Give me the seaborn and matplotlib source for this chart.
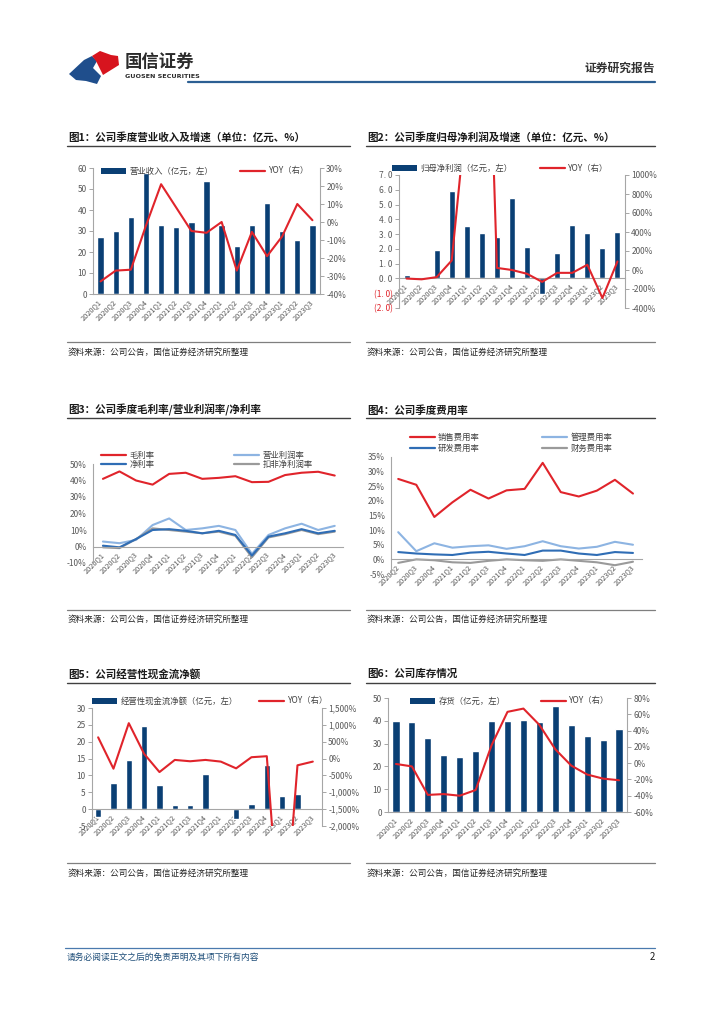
import numpy as np
import pandas as pd
import matplotlib
matplotlib.use("Agg")
import matplotlib.pyplot as plt
import seaborn as sns
from matplotlib.patches import Polygon, Patch
from matplotlib.lines import Line2D

# ---------------- data ----------------
quarters15 = ["2020Q1", "2020Q2", "2020Q3", "2020Q4", "2021Q1", "2021Q2", "2021Q3", "2021Q4",
              "2022Q1", "2022Q2", "2022Q3", "2022Q4", "2023Q1", "2023Q2", "2023Q3"]
quarters14 = quarters15[1:]

revenue = [27.0, 29.8, 36.8, 57.5, 33.0, 31.7, 34.5, 53.8, 33.0, 23.0, 33.0, 43.5, 29.8, 25.5, 33.0]
revenue_yoy = [-33, -27, -26.5, -2, 21, 8, -5, -6, 0, -27, -5.5, -19, -8, 10, 1]

net_profit = [0.2, 0.0, 1.9, 5.9, 3.55, 3.1, 2.8, 5.45, 2.1, -1.05, 1.7, 3.65, 3.1, 2.05, 3.15]
net_profit_yoy = [-90, -98, -75, 100, 1700, 5000, 22, 0, -40, -125, -30, -30, 55, -295, 90]

gross_margin = [41, 45.5, 40, 37.5, 44, 44.7, 41, 41.6, 42.6, 39, 39.2, 43.3, 44.7, 45.3, 43]
op_margin = [3, 2, 4, 13, 17, 10, 11, 12.5, 10, -4.5, 7, 11, 13.8, 10, 12.5]
net_margin = [0.5, -0.5, 4.5, 10, 10.5, 9.5, 8, 9.5, 7, -5.5, 6, 8, 10.5, 8, 9.5]
deducted_margin = [-0.5, -1, 4.5, 11, 10, 9, 8, 9, 6.5, -6.5, 5.5, 7.5, 10, 7.5, 9]

sales_rate = [27.5, 25.5, 14.5, 19.5, 23.8, 20.8, 23.6, 24.1, 33, 23, 21.5, 23.5, 27.2, 22.5]
admin_rate = [9.3, 2.8, 5.5, 4.0, 4.5, 4.8, 3.6, 4.5, 6.2, 4.5, 3.7, 4.3, 6.0, 5.0]
rd_rate = [2.5, 2.0, 1.7, 1.5, 2.3, 2.6, 2.0, 1.5, 3.0, 3.0, 2.0, 1.5, 2.5, 2.2]
finance_rate = [-1.2, 0.0, -0.3, -1.0, -1.2, -0.5, 0.0, -0.3, -0.5, 0.0, -0.5, -1.0, -2.0, -0.8]

ocf = [-2.4, 7.7, 14.6, 24.7, 7.3, 1.3, 1.1, 10.5, 0.0, -2.8, 1.4, 13.1, 3.8, 4.5, 0.3]
ocf_yoy = [630, -300, 1050, 140, -400, -40, -80, -40, -90, -290, 40, 70, -6000, -200, -90]

inventory = [40, 39.3, 32.5, 25, 24.2, 26.8, 40, 40, 40.4, 39.6, 46.5, 38.3, 33.5, 31.6, 36.5]
inventory_yoy = [-1, -4, -39, -38, -40, -33, 22, 63, 67, 47, 17, -3, -14, -19, -21]

# ---------------- style ----------------
sns.set_theme(style="white")
plt.rcParams['font.family'] = ['Noto Sans CJK SC', 'DejaVu Sans']
plt.rcParams['axes.unicode_minus'] = False

W, H = 724, 1024
NAVY = "#0A3F74"
RED = "#E0242B"
LBLUE = "#8DB4E2"
MBLUE = "#2F6DB5"
GRAY = "#9A9A9A"
AXC = "#A6A6A6"
TXT = "#595959"

fig = plt.figure(figsize=(W / 100, H / 100), dpi=100)
bg = fig.add_axes([0, 0, 1, 1])
bg.set_xlim(0, W)
bg.set_ylim(H, 0)
bg.axis('off')


def make_axes(x0, y0, x1, y1):
    return fig.add_axes([x0 / W, 1 - y1 / H, (x1 - x0) / W, (y1 - y0) / H])


def base_style(ax, labels, zero_spine=False, xlim=None):
    n = len(labels)
    for s in ['top', 'right']:
        ax.spines[s].set_visible(False)
    for s in ['left', 'bottom']:
        ax.spines[s].set_color(AXC)
        ax.spines[s].set_linewidth(0.8)
    if zero_spine:
        ax.spines['bottom'].set_position(('data', 0))
    ax.set_xticks(range(n))
    ax.set_xticklabels(labels, rotation=45, ha='right', va='center',
                       rotation_mode='anchor', fontsize=5.3, color=TXT)
    ax.set_xticks(np.arange(-0.5, n, 1), minor=True)
    ax.tick_params(axis='x', which='major', length=0, pad=5)
    ax.tick_params(axis='x', which='minor', length=3, color=AXC, direction='out', width=0.7)
    ax.tick_params(axis='y', length=3, color=AXC, labelsize=6, labelcolor=TXT, pad=1.5, width=0.7)
    ax.set_xlabel('')
    ax.set_ylabel('')
    ax.grid(False)
    ax.set_xlim(xlim if xlim else (-0.5, n - 0.5))


def twin_style(ax2):
    for s in ['top', 'left', 'bottom']:
        ax2.spines[s].set_visible(False)
    ax2.spines['right'].set_color(AXC)
    ax2.spines['right'].set_linewidth(0.8)
    ax2.tick_params(axis='y', length=3, color=AXC, labelsize=6, labelcolor=TXT, pad=1.5, width=0.7)
    ax2.set_xlabel('')
    ax2.set_ylabel('')
    ax2.grid(False)


def pct_labels(ax, ticks, comma=False):
    ax.set_yticks(ticks)
    if comma:
        ax.set_yticklabels([f"{t:,.0f}%" for t in ticks])
    else:
        ax.set_yticklabels([f"{t:.0f}%" for t in ticks])


def legend_at(ax, handles, labels, cx, cy, ncol, colsp, handlelen=3.0, rowsp=0.2):
    leg = ax.legend(handles, labels, loc='center', bbox_to_anchor=(cx, cy),
                    bbox_transform=bg.transData, ncol=ncol, frameon=False,
                    fontsize=6, handlelength=handlelen, handletextpad=0.4,
                    columnspacing=colsp, labelspacing=rowsp, borderaxespad=0, borderpad=0)
    for t in leg.get_texts():
        t.set_color("#404040")
    return leg


def title_block(x0, x1, ytitle, yline, text):
    bg.text(x0 + 1, ytitle, text, fontsize=7.6, fontweight='bold', color="#1A1A1A",
            va='center', ha='left')
    bg.plot([x0, x1], [yline, yline], color="#404040", lw=1.0)


def source_block(x0, x1, yline, ytext):
    bg.plot([x0, x1], [yline, yline], color="#7F7F7F", lw=0.9)
    bg.text(x0 + 1, ytext, "资料来源：公司公告，国信证券经济研究所整理", fontsize=6.2,
            color="#262626", va='center', ha='left')


idx15 = np.arange(15)
idx14 = np.arange(14)
bar_handle = lambda: Patch(facecolor=NAVY, edgecolor='none')
line_handle = lambda c: Line2D([0], [0], color=c, lw=1.6)

# ---------------- header / footer ----------------
blue_logo = Polygon([(69, 74), (84, 60), (92, 56), (97, 61), (93, 68), (101, 76),
                     (97, 84), (86, 81), (76, 80)], closed=True, facecolor="#1F4E8C",
                    edgecolor='none')
red_logo = Polygon([(92, 56), (100, 51), (111, 55), (118, 56), (119, 65), (111, 70),
                    (103, 75), (99, 67), (96, 61)], closed=True, facecolor="#D7141E",
                   edgecolor='none')
bg.add_patch(blue_logo)
bg.add_patch(red_logo)
bg.text(125, 62, "国信证券", fontsize=12.5, fontweight='bold', color="#2B2B2B", va='center', ha='left')
bg.text(125, 77, "GUOSEN SECURITIES", fontsize=4.6, fontweight='bold', color="#2B2B2B",
        va='center', ha='left', family=['DejaVu Sans'])
bg.plot([188, 655], [82, 82], color="#2C5F93", lw=1.6)
bg.text(655, 68, "证券研究报告", fontsize=8.5, fontweight='bold', color="#333333", va='center', ha='right')

bg.plot([65, 655], [948, 948], color="#4A7AAE", lw=0.9)
bg.text(67, 957, "请务必阅读正文之后的免责声明及其项下所有内容", fontsize=6.3, style='italic',
        color="#1F4E79", va='center', ha='left')
bg.text(655, 957, "2", fontsize=7, color="#1A1A1A", va='center', ha='right')

# ---------------- titles & sources ----------------
title_block(67, 350, 137, 146, "图1：公司季度营业收入及增速（单位：亿元、%）")
title_block(366, 655, 137, 146, "图2：公司季度归母净利润及增速（单位：亿元、%）")
title_block(67, 350, 410, 418, "图3：公司季度毛利率/营业利润率/净利率")
title_block(366, 655, 410, 418, "图4：公司季度费用率")
title_block(67, 350, 674, 683, "图5：公司经营性现金流净额")
title_block(366, 655, 674, 683, "图6：公司库存情况")

source_block(67, 350, 342, 352)
source_block(366, 655, 342, 352)
source_block(67, 350, 610, 619)
source_block(366, 655, 610, 619)
source_block(67, 350, 863, 873)
source_block(366, 655, 863, 873)

# ---------------- chart 1 ----------------
ax = make_axes(93, 168, 320, 294)
sns.barplot(x=quarters15, y=revenue, color=NAVY, saturation=1, width=0.42, errorbar=None, ax=ax)
base_style(ax, quarters15)
ax.set_ylim(0, 60)
ax.set_yticks(np.arange(0, 61, 10))
ax2 = ax.twinx()
sns.lineplot(x=idx15, y=revenue_yoy, color=RED, linewidth=1.5, ax=ax2)
twin_style(ax2)
ax2.set_ylim(-40, 30)
pct_labels(ax2, np.arange(-40, 31, 10))
ax.set_xlim(-0.5, 14.5)
legend_at(ax2, [bar_handle(), line_handle(RED)], ["营业收入（亿元，左）", "YOY（右）"],
          205, 171, 2, 3.3)

# ---------------- chart 2 ----------------
ax = make_axes(399, 175, 625, 308)
sns.barplot(x=quarters15, y=net_profit, color=NAVY, saturation=1, width=0.40, errorbar=None, ax=ax)
base_style(ax, quarters15, zero_spine=True)
ax.set_ylim(-2, 7)
lt = np.arange(-2, 7.01, 1.0)
ax.set_yticks(lt)
ax.set_yticklabels([f"{v:.1f}".replace(".", ". ") if v >= 0 else f"({-v:.1f})".replace(".", ". ") for v in lt])
for v, t in zip(lt, ax.get_yticklabels()):
    if v < 0:
        t.set_color("#E0242B")
ax2 = ax.twinx()
sns.lineplot(x=idx15, y=net_profit_yoy, color=RED, linewidth=1.5, ax=ax2)
twin_style(ax2)
ax2.set_ylim(-400, 1000)
pct_labels(ax2, np.arange(-400, 1001, 200))
ax.set_xlim(-0.5, 14.5)
legend_at(ax2, [bar_handle(), line_handle(RED)], ["归母净利润（亿元，左）", "YOY（右）"],
          500, 168, 2, 3.3)

# ---------------- chart 3 ----------------
ax = make_axes(93, 464, 343, 563)
sns.lineplot(x=idx15, y=gross_margin, color=RED, linewidth=1.5, ax=ax)
sns.lineplot(x=idx15, y=op_margin, color=LBLUE, linewidth=1.5, ax=ax)
sns.lineplot(x=idx15, y=deducted_margin, color=GRAY, linewidth=1.5, ax=ax)
sns.lineplot(x=idx15, y=net_margin, color=MBLUE, linewidth=1.5, ax=ax)
base_style(ax, quarters15, zero_spine=True, xlim=(-0.6, 14.5))
ax.set_ylim(-10, 50)
pct_labels(ax, np.arange(-10, 51, 10))
legend_at(ax, [line_handle(RED), line_handle(MBLUE), line_handle(LBLUE), line_handle(GRAY)],
          ["毛利率", "净利率", "营业利润率", "扣非净利润率"], 207, 460, 2, 9.5, rowsp=0.05)

# ---------------- chart 4 ----------------
ax = make_axes(391, 457, 642, 574)
sns.lineplot(x=idx14, y=sales_rate, color=RED, linewidth=1.5, ax=ax)
sns.lineplot(x=idx14, y=admin_rate, color=LBLUE, linewidth=1.5, ax=ax)
sns.lineplot(x=idx14, y=finance_rate, color=GRAY, linewidth=1.5, ax=ax)
sns.lineplot(x=idx14, y=rd_rate, color=MBLUE, linewidth=1.5, ax=ax)
base_style(ax, quarters14, zero_spine=True, xlim=(-0.4, 13.5))
ax.set_ylim(-5, 35)
pct_labels(ax, np.arange(-5, 36, 5))
legend_at(ax, [line_handle(RED), line_handle(MBLUE), line_handle(LBLUE), line_handle(GRAY)],
          ["销售费用率", "研发费用率", "管理费用率", "财务费用率"], 511, 443, 2, 7.5, rowsp=0.15)

# ---------------- chart 5 ----------------
ax = make_axes(92, 708, 322, 826)
sns.barplot(x=quarters15, y=ocf, color=NAVY, saturation=1, width=0.42, errorbar=None, ax=ax)
base_style(ax, quarters15, zero_spine=True)
ax.set_ylim(-5, 30)
ax.set_yticks(np.arange(-5, 31, 5))
ax2 = ax.twinx()
sns.lineplot(x=idx15, y=ocf_yoy, color=RED, linewidth=1.5, ax=ax2)
twin_style(ax2)
ax2.set_ylim(-2000, 1500)
pct_labels(ax2, np.arange(-2000, 1501, 500), comma=True)
ax.set_xlim(-0.4, 14.6)
legend_at(ax2, [bar_handle(), line_handle(RED)], ["经营性现金流净额（亿元，左）", "YOY（右）"],
          210, 701, 2, 2.6)

# ---------------- chart 6 ----------------
ax = make_axes(388, 698, 627, 812)
sns.barplot(x=quarters15, y=inventory, color=NAVY, saturation=1, width=0.45, errorbar=None, ax=ax)
base_style(ax, quarters15)
ax.set_ylim(0, 50)
ax.set_yticks(np.arange(0, 51, 10))
ax2 = ax.twinx()
sns.lineplot(x=idx15, y=inventory_yoy, color=RED, linewidth=1.5, ax=ax2)
twin_style(ax2)
ax2.set_ylim(-60, 80)
pct_labels(ax2, np.arange(-60, 81, 20))
ax.set_xlim(-0.5, 14.5)
legend_at(ax2, [bar_handle(), line_handle(RED)], ["存货（亿元，左）", "YOY（右）"],
          510, 701, 2, 4.2)

fig.savefig("out.png", dpi=100)
